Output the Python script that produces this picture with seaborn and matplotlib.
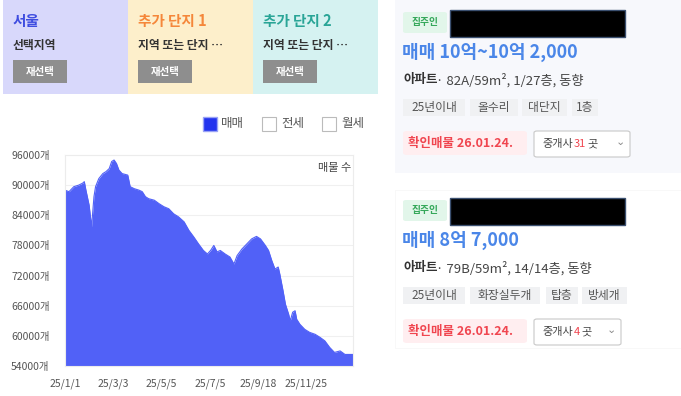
import numpy as np
import pandas as pd
import matplotlib
matplotlib.use("Agg")
import matplotlib.pyplot as plt
import matplotlib.patches as mpatches
import seaborn as sns

# listing count (매물 수), index = day position on the x axis
day_idx = [0, 5, 11, 17, 22, 24, 26, 30, 33, 36, 38, 42, 47, 51, 55, 58, 61, 64, 67, 71,
           78, 81, 86, 92, 96, 100, 104, 111, 117, 123, 129, 135, 141, 148, 154, 160, 166, 172, 177, 181,
           185, 189, 193, 199, 205, 210, 214, 220, 226, 232, 238, 243, 249, 253, 257, 261, 265, 267, 271, 274,
           278, 280, 283, 286, 288, 292, 298, 304, 311, 317, 323, 329, 335, 342, 348, 358]
listings = [89000, 88700, 89700, 90000, 90400, 90700, 89000, 86000, 81700, 87700, 89700, 91300, 92300, 92700, 93300, 94700, 95000, 94300, 93000, 92300,
            92000, 89700, 89300, 89000, 88700, 87700, 87300, 87000, 86300, 85700, 85300, 84300, 83700, 82700, 81000, 79700, 78300, 77000, 76300, 77000,
            78000, 76700, 77000, 76300, 75700, 74300, 76000, 77300, 78300, 79300, 79800, 79300, 78000, 77000, 75000, 73300, 73700, 72300, 69000, 66300,
            64300, 63000, 64700, 65000, 63300, 62300, 61300, 60700, 60300, 59700, 59000, 57700, 56700, 57000, 56300, 56300]
tick_pos = [0, 60, 120, 180, 240, 300]
tick_labels = ["25/1/1", "25/3/3", "25/5/5", "25/7/5", "25/9/18", "25/11/25"]
y_ticks = [54000, 60000, 66000, 72000, 78000, 84000, 90000, 96000]

df = pd.DataFrame({"idx": day_idx, "count": listings})

sns.set_theme(style="white")
plt.rcParams["font.family"] = ["Noto Sans CJK KR", "DejaVu Sans"]

W, H = 681, 396
fig = plt.figure(figsize=(W / 100, H / 100), dpi=100)
fig.patch.set_facecolor("white")
renderer = fig.canvas.get_renderer()


def fx(x):
    return x / W


def fy(y):
    return 1 - y / H


def box(x0, y0, x1, y1, fc, ec="none", lw=0.0, rounded=0.0):
    if rounded > 0:
        p = mpatches.FancyBboxPatch((fx(x0), fy(y1)), fx(x1 - x0), (y1 - y0) / H,
                                    boxstyle="round,pad=0,rounding_size=%f" % (rounded / W),
                                    transform=fig.transFigure, fc=fc, ec=ec, lw=lw)
    else:
        p = mpatches.Rectangle((fx(x0), fy(y1)), fx(x1 - x0), (y1 - y0) / H,
                               transform=fig.transFigure, fc=fc, ec=ec, lw=lw)
    fig.patches.append(p)


def txt(x, y, s, size, color, weight="normal", ha="left"):
    return fig.text(fx(x), fy(y), s, fontsize=size, color=color, fontweight=weight, ha=ha, va="center")


# header selection panels
panels = [("서울", "선택지역", "#d8d8fb", "#3f4de0"),
          ("추가 단지 1", "지역 또는 단지 …", "#fdefcb", "#f5873a"),
          ("추가 단지 2", "지역 또는 단지 …", "#d5f2f1", "#2aa597")]
for i, (title, sub, bg, tc) in enumerate(panels):
    x0 = 3 + i * 125
    box(x0, 0, x0 + 125, 94, bg)
    txt(x0 + 10, 21, title, 10.5, tc, weight="bold")
    txt(x0 + 10, 46, sub, 8.5, "#333333", weight="bold")
    box(x0 + 10, 60, x0 + 64, 83, "#8e8e8e")
    txt(x0 + 37, 71.5, "재선택", 7.5, "white", weight="bold", ha="center")

# legend checkboxes
box(203, 117, 217, 131, "#2233ee", ec="#9aa3f5", lw=1.0)
txt(221, 124, "매매", 9, "#555555")
box(262, 117, 276, 131, "white", ec="#bbbbbb", lw=0.8)
txt(281, 124, "전세", 9, "#555555")
box(322, 117, 336, 131, "white", ec="#bbbbbb", lw=0.8)
txt(341, 124, "월세", 9, "#555555")

# area chart
ax = fig.add_axes([fx(65), fy(366), fx(288), 211 / H])
ax.fill_between(df["idx"], df["count"], 54000, color="#5161f7", lw=0)
sns.lineplot(data=df, x="idx", y="count", ax=ax, color="#5161f7", lw=0.8)
ax.set_xlim(0, 358)
ax.set_ylim(54000, 96000)
ax.set_yticks(y_ticks)
ax.set_yticklabels([f"{v}개" for v in y_ticks])
ax.set_xticks(tick_pos)
ax.set_xticklabels(tick_labels)
ax.tick_params(axis="y", length=0, pad=11, labelsize=7.5, labelcolor="#555555")
ax.tick_params(axis="x", length=0, pad=9, labelsize=7.5, labelcolor="#555555")
ax.set_xlabel("")
ax.set_ylabel("")
ax.grid(axis="y", color="#f0f0f0", lw=0.8)
ax.set_axisbelow(True)
for sp in ax.spines.values():
    sp.set_color("#ececec")
    sp.set_linewidth(0.8)
ax.text(0.995, 0.94, "매물 수", transform=ax.transAxes, ha="right", va="center",
        fontsize=8, color="#444444")

# listing cards
cards = [
    (0, "#f7f8fc", "매매 10억~10억 2,000", "· 82A/59m², 1/27층, 동향",
     [("25년이내", 403, 465), ("올수리", 470, 518), ("대단지", 522, 567), ("1층", 572, 598)], "31", 630),
    (188, "white", "매매 8억 7,000", "· 79B/59m², 14/14층, 동향",
     [("25년이내", 403, 465), ("화장실두개", 470, 540), ("탑층", 546, 578), ("방세개", 582, 627)], "4", 621),
]
for dy, bg, price, info, tags, brokers, btn_r in cards:
    if dy == 0:
        box(395, 0, 681, 173, bg)
    else:
        box(395, dy + 2, 681, dy + 160, bg, ec="#f5f5f5", lw=0.5)
    box(403, dy + 12, 447, dy + 33, "#e2f6ea", rounded=3)
    txt(425, dy + 22.5, "집주인", 7, "#35a85a", weight="bold", ha="center")
    box(450, dy + 10, 625, dy + 37, "black", ec="#3b5070", lw=1.0)
    txt(402, dy + 52, price, 13, "#4a86e8", weight="bold")
    txt(403, dy + 80, "아파트", 9, "#333333", weight="bold")
    txt(436, dy + 80, info, 9.5, "#444444")
    for label, a, b in tags:
        box(a, dy + 99, b, dy + 116, "#f0f1f3")
        txt((a + b) / 2, dy + 107.5, label, 8.5, "#555555", ha="center")
    box(403, dy + 131, 527, dy + 155, "#ffeef0", rounded=4)
    txt(408, dy + 143, "확인매물 26.01.24.", 9, "#f0454f", weight="bold")
    box(534, dy + 131, btn_r, dy + 157, "white", ec="#c8c8c8", lw=0.8, rounded=3)
    txt(542, dy + 144, "중개사", 8, "#444444")
    num = txt(574, dy + 144, brokers, 8, "#f0454f")
    right_px = num.get_window_extent(renderer).x1
    txt(right_px + 1, dy + 144, "곳", 8, "#444444")
    txt(btn_r - 10, dy + 142, "⌄", 8, "#888888", ha="center")

fig.savefig("out.png", dpi=100)
